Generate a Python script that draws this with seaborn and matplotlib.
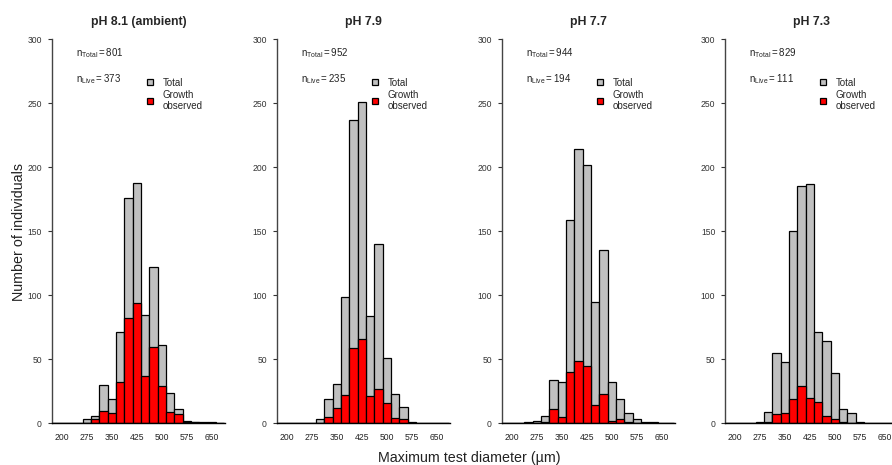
import numpy as np
import pandas as pd
import matplotlib
matplotlib.use("Agg")
import matplotlib.pyplot as plt
import seaborn as sns
from matplotlib.patches import Patch

# ---- data ----
sizes = [250, 275, 300, 325, 350, 375, 400, 425, 450, 475, 500, 525, 550, 575, 600, 625, 650]
titles = ["pH 8.1 (ambient)", "pH 7.9", "pH 7.7", "pH 7.3"]
total_81 = [0, 3, 6, 30, 19, 71, 176, 188, 85, 122, 61, 24, 11, 2, 1, 1, 1]
live_81 = [0, 0, 3, 10, 8, 32, 82, 94, 37, 60, 29, 9, 7, 1, 1, 0, 0]
total_79 = [0, 0, 3, 19, 31, 99, 237, 251, 84, 140, 51, 23, 13, 1, 0, 0, 0]
live_79 = [0, 0, 0, 5, 12, 22, 59, 66, 21, 27, 16, 4, 3, 0, 0, 0, 0]
total_77 = [1, 2, 6, 34, 32, 159, 214, 202, 95, 135, 32, 19, 8, 3, 1, 1, 0]
live_77 = [0, 0, 1, 11, 5, 40, 49, 45, 14, 23, 2, 3, 1, 0, 0, 0, 0]
total_73 = [0, 1, 9, 55, 48, 150, 185, 187, 71, 64, 39, 11, 8, 1, 0, 0, 0]
live_73 = [0, 0, 1, 7, 8, 19, 29, 20, 17, 6, 3, 1, 0, 0, 0, 0, 0]
n_total = [801, 952, 944, 829]
n_live = [373, 235, 194, 111]
xtick_vals = [200, 275, 350, 425, 500, 575, 650]
ytick_vals = [0, 50, 100, 150, 200, 250, 300]

totals = [total_81, total_79, total_77, total_73]
lives = [live_81, live_79, live_77, live_73]

sns.set_theme(style="white")
plt.rcParams["font.family"] = ["Liberation Sans", "DejaVu Sans"]
plt.rcParams["mathtext.fontset"] = "custom"
plt.rcParams["mathtext.rm"] = "Liberation Sans"
plt.rcParams["mathtext.it"] = "Liberation Sans"

W, H = 892, 465
fig = plt.figure(figsize=(W / 100, H / 100), dpi=100)

axis_x = [51.7, 276.7, 501.7, 725.0]
ax_w = 173.3
y0_px, y300_px = 423.3, 39.3
bins = [float(b) for b in np.arange(162.5, 700, 25)]

gray = "#c0c0c0"
red = "#ff0000"

for i in range(4):
    left = axis_x[i] / W
    bottom = 1 - y0_px / H
    height = (y0_px - y300_px) / H
    ax = fig.add_axes([left, bottom, ax_w / W, height])
    df = pd.DataFrame({"size": sizes, "total": totals[i], "live": lives[i]})
    sns.histplot(data=df, x="size", weights="total", bins=bins, ax=ax,
                 color=gray, edgecolor="black", linewidth=0.9, alpha=1)
    sns.histplot(data=df, x="size", weights="live", bins=bins, ax=ax,
                 color=red, edgecolor="black", linewidth=0.9, alpha=1)
    ax.set_xlim(170, 690)
    ax.set_ylim(0, 300)
    ax.set_xticks(xtick_vals)
    ax.set_xticklabels([str(v) for v in xtick_vals])
    ax.set_yticks(ytick_vals)
    ax.set_yticklabels([str(v) for v in ytick_vals])
    ax.tick_params(axis="y", length=3, width=0.8, pad=4, labelsize=6.2, colors="#333333",
                   left=True, direction="out")
    ax.tick_params(axis="x", length=0, pad=7, labelsize=6.2, colors="#222222")
    ax.set_xlabel("")
    ax.set_ylabel("")
    for s in ["top", "right"]:
        ax.spines[s].set_visible(False)
    ax.spines["left"].set_color("#444444")
    ax.spines["left"].set_linewidth(1.0)
    ax.spines["bottom"].set_color("black")
    ax.spines["bottom"].set_linewidth(1.0)
    ax.set_title(titles[i], fontsize=8.8, fontweight="bold", pad=10)
    ax.text(243, 289, r"$\mathrm{n_{Total}=%d}$" % n_total[i], fontsize=7,
            va="center", ha="left", color="#222222")
    ax.text(243, 269, r"$\mathrm{n_{Live}=%d}$" % n_live[i], fontsize=7,
            va="center", ha="left", color="#222222")
    handles = [Patch(facecolor=gray, edgecolor="black", linewidth=0.9),
               Patch(facecolor=red, edgecolor="black", linewidth=0.9)]
    ax.legend(handles, ["Total", "Growth\nobserved"], frameon=False, fontsize=7,
              handlelength=0.6, handleheight=0.6, handletextpad=1.0,
              labelspacing=0.2, loc="upper left", borderpad=0, borderaxespad=0,
              bbox_to_anchor=(0.55, 0.9))

fig.text(469 / W, 1 - 458 / H, "Maximum test diameter (µm)", fontsize=10.3,
         ha="center", va="center", color="#222222")
fig.text(19 / W, 1 - 232 / H, "Number of individuals", fontsize=10.3,
         ha="center", va="center", rotation=90, color="#222222")

fig.savefig("out.png", dpi=100)
